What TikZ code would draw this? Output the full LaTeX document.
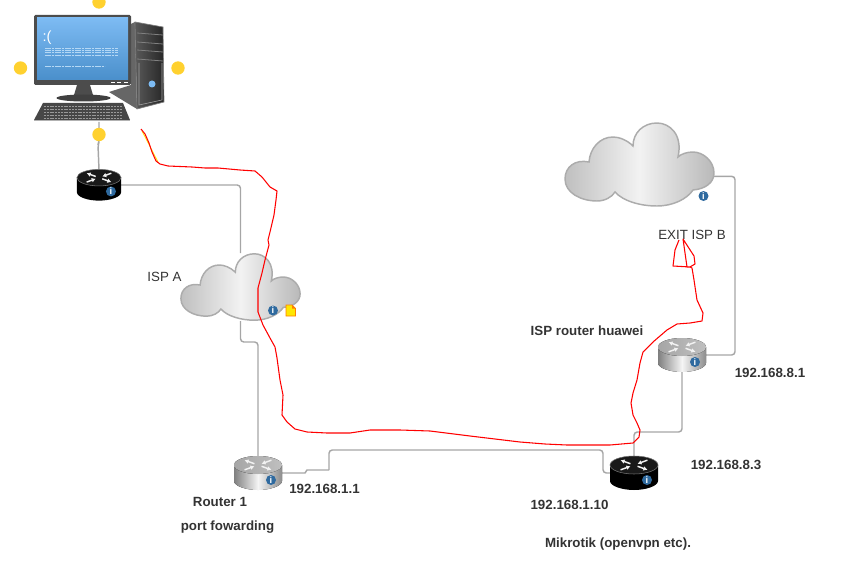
\documentclass[tikz,border=0pt]{standalone}
\usepackage{fontspec}
\setmainfont{Liberation Sans}
\usetikzlibrary{arrows.meta}
\definecolor{wiregray}{HTML}{A6A6A6}
\definecolor{infoblue}{HTML}{2F6A9F}
\definecolor{dotyellow}{HTML}{FFD12F}
\definecolor{labelgray}{HTML}{333333}
\definecolor{screentop}{HTML}{7DBBF3}
\definecolor{screenlow}{HTML}{4A8FCB}
\definecolor{screentext}{HTML}{B5D8F5}
\tikzset{
    wire/.style={wiregray, line width=1.1pt, rounded corners=2.5pt},
    freehand/.style={red, line width=0.8pt, line join=round},
    routerbox/.style={inner sep=0pt, outer sep=0pt, minimum width=36pt, minimum height=25.5pt},
    cloudbox/.style={inner sep=0pt, outer sep=0pt},
    silverbody/.style={left color=gray!100, right color=gray!90, middle color=white!92!gray},
    silvertop/.style={left color=gray!70, right color=gray!50},
    blackbody/.style={black},
    blacktop/.style={black!90, draw=black!55, line width=0.4pt},
    routerarrow/.style={white!90!gray, line width=1.1pt, >={Latex[length=3pt,width=3.5pt]}},
    infoicon/.style={circle, fill=infoblue, text=white, inner sep=0pt, minimum size=7.5pt, font=\bfseries\scriptsize},
    sundot/.style={circle, fill=dotyellow, inner sep=0pt, minimum size=10pt},
    netlabel/.style={text=labelgray, font=\fontsize{10}{12}\selectfont, inner sep=0pt},
    boldlabel/.style={netlabel, font=\fontsize{10}{12}\selectfont\bfseries},
}
\begin{document}
\begin{tikzpicture}[x=0.75pt, y=-0.75pt]
    \newcommand{\drawrouter}[3]{
        \begin{scope}[shift={(#1.center)}, scale=#3]
            \fill [#2body] (-24,-8) -- (-24,8) .. controls (-24,13) and (-12,17) .. (0,17)
                .. controls (12,17) and (24,13) .. (24,8) -- (24,-8) -- cycle;
            \fill [#2top] (0,-8) ellipse [x radius=24, y radius=9];
            \begin{scope}[shift={(0,-8)}, yscale=0.36]
                \foreach \a in {45,225} {
                    \draw [routerarrow, ->] (\a:5) -- (\a:19);
                }
                \foreach \a in {135,315} {
                    \draw [routerarrow, ->] (\a:19) -- (\a:5);
                }
            \end{scope}
            \node (#1info) [infoicon] at (13,7) {i};
        \end{scope}
    }
    \newcommand{\drawcloud}[2]{
        \begin{scope}[shift={(#1.center)}, scale=#2, shift={(-74.5,-41.5)}]
            \draw [draw=gray!65, line width=1.1pt, left color=gray!50, right color=gray!55, middle color=white!90!gray]
                (24,39) .. controls (10,36) and (0,44) .. (0,56)
                .. controls (0,70) and (16,78) .. (32,78)
                .. controls (40,78) and (47,74) .. (50,69)
                .. controls (58,78) and (75,83) .. (92,83)
                .. controls (108,83) and (122,76) .. (128,67)
                .. controls (140,66) and (149,60) .. (149,50)
                .. controls (149,38) and (138,29) .. (128,29)
                .. controls (122,29) and (116,31) .. (113,34)
                .. controls (118,12) and (105,0) .. (92,0)
                .. controls (78,0) and (68,10) .. (68,23)
                .. controls (62,17) and (54,14) .. (48,14)
                .. controls (35,14) and (25,25) .. (24,39) -- cycle;
        \end{scope}
    }
    \useasboundingbox (0,0) rectangle (856,588);

    % boxes of the devices, the wires end on these
    \node (pc) [cloudbox, minimum width=97.5pt, minimum height=80pt] at (99,68.5) {};
    \node (rtop) [routerbox, minimum width=33pt, minimum height=23pt] at (99,185) {};
    \node (rone) [routerbox] at (258,473) {};
    \node (rmik) [routerbox] at (634,473) {};
    \node (risp) [routerbox] at (682,355) {};
    \node (cloudA) [cloudbox, minimum width=89.5pt, minimum height=51pt] at (240.5,287) {};
    \node (cloudB) [cloudbox, minimum width=112pt, minimum height=62pt] at (639.5,164.5) {};

    % wires
    \draw [wire] (pc.south) -- ++(0,20) -- ++(-1,3) -- (rtop.north);
    \draw [wire] (rtop.east) -| (cloudA.north);
    \draw [wire] (cloudA.south) -- ++(0,21) -| (rone.north);
    \draw [wire, sharp corners] (rone.east) -- ++(23,0) -- ++(2,-3) -- ++(22,0);
    \draw [wire] (rone.east) ++(47,-3) |- ++(20,-20) -| ++(254,23) -- (rmik.west);
    \draw [wire] (rmik.north) |- ++(24,-24) -| (risp.south);
    \draw [wire] (risp.east) -- ++(29,0) |- (cloudB.-9);

    % computer
    \fill [black!60] (131,85) -- (109,92) -- (137,109) -- (135,22) -- (131,24) -- cycle;
    \shade [left color=black!65, right color=black!85] (135,22) -- (163,27) -- (164,102) -- (137,109) -- cycle;
    \draw [gray, line width=0.5pt] (135,22) -- (163,27) -- (164,102) -- (137,109) -- cycle;
    \foreach \i in {34,43,51,60} {
        \draw [gray, line width=0.6pt] (137,\i-1) -- (163,\i+1);
    }
    \draw [gray!70, line width=0.4pt] (139,63) -- (139,105) -- (162,100) -- (162,63);
    \fill [screentop] (152,84) circle [radius=3.5];
    \fill [black!70] (77,85) -- (90,85) -- (93,95) -- (74,95) -- cycle;
    \fill [black!75] (83.5,98) ellipse [x radius=27, y radius=3.5];
    \fill [black!70, rounded corners=1pt] (34,15) rectangle (131,85);
    \shade [top color=screentop, bottom color=screenlow] (37,18) rectangle (128,80);
    \node (sadface) [text=white, font=\fontsize{11}{11}\selectfont, inner sep=0pt] at (47,38) {:(};
    \foreach \i in {48,50,52,55} {
        \draw [screentext, line width=0.3pt, dash pattern=on 2pt off 0.5pt] (45,\i) -- (118,\i);
    }
    \draw [screentext, line width=0.3pt, dash pattern=on 2pt off 0.5pt] (45,66) -- (105,66);
    \foreach \i in {111,117,124} {
        \draw [white, line width=1pt] (\i,82.5) -- (\i+4,82.5);
    }
    \fill [black!72] (43,103) -- (123,103) -- (130,120) -- (34,120) -- cycle;
    \fill [gray!60] (34,120) rectangle (130,121.5);
    \foreach \i in {106,109,112,115,118} {
        \draw [black!40, line width=0.7pt, dash pattern=on 1.5pt off 0.6pt] (44,\i) -- (122,\i);
    }
    \node (dottop) [sundot] at (99,2) {};
    \node (dotleft) [sundot] at (20.5,68) {};
    \node (dotright) [sundot] at (178,68) {};
    \node (dotbottom) [sundot] at (99,134.5) {};

    % clouds and routers
    \drawcloud{cloudA}{0.8}
    \drawcloud{cloudB}{1}
    \drawrouter{rtop}{black}{0.92}
    \drawrouter{rone}{silver}{1}
    \drawrouter{rmik}{black}{1}
    \drawrouter{risp}{silver}{1}
    \node (infoA) [infoicon] at (273,310.5) {i};
    \node (infoB) [infoicon] at (703.5,196) {i};
    \fill [yellow!90!orange, draw=orange, line width=0.6pt] (286,305) -- (292,305) -- (295.5,308.5) -- (295.5,316) -- (286,316) -- cycle;
    \fill [orange] (292,305) -- (295.5,308.5) -- (292,308.5) -- cycle;

    % labels
    \node (lblispa) [netlabel] at (164.5,277) {ISP A};
    \node (lblexit) [netlabel] at (692,235) {EXIT ISP B};
    \node (lblhuawei) [boldlabel] at (587,330.5) {ISP router huawei};
    \node (lbleightone) [boldlabel] at (770,373) {192.168.8.1};
    \node (lbleightthree) [boldlabel] at (726,465) {192.168.8.3};
    \node (lbloneten) [boldlabel] at (569.5,505) {192.168.1.10};
    \node (lblmikrotik) [boldlabel] at (618,544) {Mikrotik (openvpn etc).};
    \node (lblrouter) [boldlabel] at (220,502) {Router 1};
    \node (lblport) [boldlabel] at (227.5,527) {port fowarding};
    \node (lbloneone) [boldlabel] at (324.5,489) {192.168.1.1};

    % red line over everything
    \draw [yellow!90!orange, line width=0.6pt] (142,131) -- (158,162);
    \draw [freehand] (141,129) -- (145,134) -- (149,143) -- (152,152) -- (156,161) -- (160,164)
        -- (168,166) -- (192,167) -- (205,168) -- (218,168) -- (240,170) -- (255,171) -- (262,177)
        -- (270,187) -- (277,191) -- (276,200) -- (274,215) -- (270,232) -- (268,240) -- (269,245)
        -- (265,260) -- (262,273) -- (258,288) -- (258,312) -- (263,325) -- (270,338) -- (275,347)
        -- (277,358) -- (280,380) -- (283,395) -- (282,415) -- (287,422) -- (295,429) -- (307,432)
        -- (327,433) -- (350,433) -- (370,430) -- (400,430) -- (430,431) -- (470,436) -- (520,442)
        -- (545,444) -- (567,445) -- (610,445) -- (633,443) -- (639,437) -- (640,430) -- (637,423)
        -- (633,415) -- (631,403) -- (633,393) -- (637,380) -- (640,363) -- (643,352) -- (653,342)
        -- (667,330) -- (677,324) -- (690,323) -- (702,321) -- (703,313) -- (697,300) -- (694,280)
        -- (692,268) -- (690,267) -- (687,267) -- (683,239) -- (694,256) -- (695,264) -- (690,267)
        -- (673,266) -- (675,250) -- (679,240);
\end{tikzpicture}
\end{document}
